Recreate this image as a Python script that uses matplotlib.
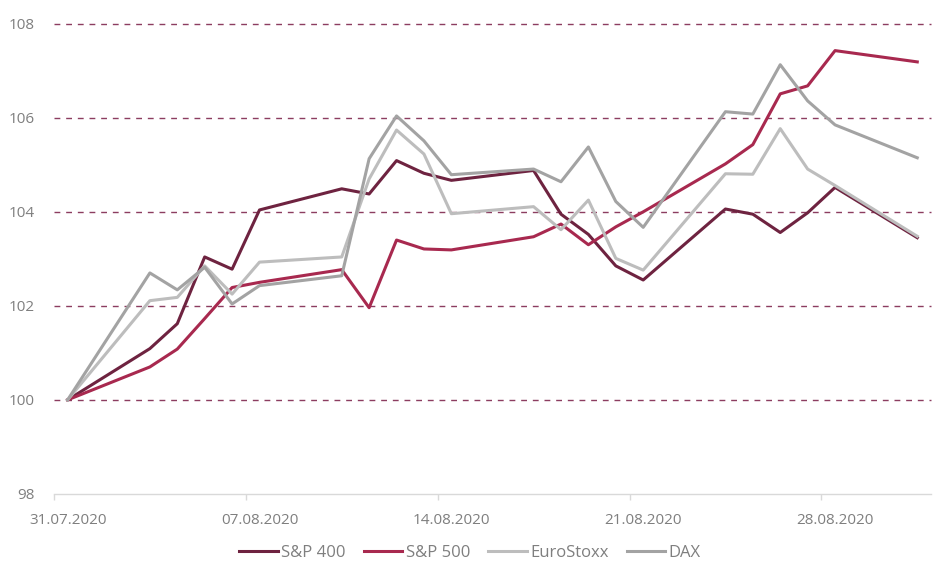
import pandas as pd
import matplotlib.pyplot as plt
import matplotlib.dates as mdates

dates = [
    "2020-07-31", "2020-08-03", "2020-08-04", "2020-08-05", "2020-08-06",
    "2020-08-07", "2020-08-10", "2020-08-11", "2020-08-12", "2020-08-13",
    "2020-08-14", "2020-08-17", "2020-08-18", "2020-08-19", "2020-08-20",
    "2020-08-21", "2020-08-24", "2020-08-25", "2020-08-26", "2020-08-27",
    "2020-08-28", "2020-08-31",
]
tick_dates = ["2020-07-31", "2020-08-07", "2020-08-14", "2020-08-21", "2020-08-28"]

sp400 = [100.00, 101.09, 101.62, 103.04, 102.78, 104.04, 104.49, 104.38,
         105.09, 104.82, 104.67, 104.88, 103.95, 103.52, 102.85, 102.55,
         104.06, 103.95, 103.56, 103.98, 104.52, 103.45]
sp500 = [100.00, 100.70, 101.08, 101.73, 102.39, 102.50, 102.77, 101.96,
         103.40, 103.21, 103.19, 103.47, 103.74, 103.30, 103.68, 104.00,
         105.02, 105.43, 106.51, 106.68, 107.43, 107.19]
eurostoxx = [100.00, 102.11, 102.18, 102.85, 102.25, 102.93, 103.04, 104.70,
             105.74, 105.23, 103.96, 104.11, 103.62, 104.25, 103.01, 102.76,
             104.81, 104.80, 105.77, 104.91, 104.56, 103.48]
dax = [100.00, 102.70, 102.34, 102.82, 102.04, 102.43, 102.64, 105.13,
       106.04, 105.51, 104.79, 104.91, 104.64, 105.38, 104.22, 103.67,
       106.13, 106.08, 107.13, 106.36, 105.85, 105.15]

series = [
    ("S&P 400", sp400, "#6E2340"),
    ("S&P 500", sp500, "#A8294F"),
    ("EuroStoxx", eurostoxx, "#BDBDBD"),
    ("DAX", dax, "#A3A3A3"),
]

x = pd.to_datetime(dates)
ticks = pd.to_datetime(tick_dates)

plt.rcParams["font.family"] = ["Open Sans", "DejaVu Sans"]

fig = plt.figure(figsize=(9.4, 5.81), dpi=100)
ax = fig.add_axes([0.0574, 0.150, 0.933, 0.809])

for y in [100, 102, 104, 106, 108]:
    ax.axhline(y, color="#8C3D60", linewidth=1.0, dashes=(4.2, 4.2),
               zorder=1, clip_on=False)

for name, vals, color in series:
    ax.plot(x, vals, color=color, linewidth=2.2, label=name, zorder=3)

half = pd.Timedelta(hours=12)
ax.set_xlim(x[0] - half, x[-1] + half)
ax.set_ylim(98, 108)
ax.set_yticks([98, 100, 102, 104, 106, 108])

ax.set_xticks(ticks)
ax.xaxis.set_major_formatter(mdates.DateFormatter("%d.%m.%Y"))
ax.set_xticks(ticks - half, minor=True)

ax.tick_params(axis="x", which="major", length=0, pad=14, labelsize=11,
               labelcolor="#7F7F7F")
ax.tick_params(axis="x", which="minor", length=4, width=1, color="#D9D9D9")
ax.tick_params(axis="y", length=0, pad=14, labelsize=11,
               labelcolor="#7F7F7F")

for side in ["top", "right", "left"]:
    ax.spines[side].set_visible(False)
ax.spines["bottom"].set_color("#D9D9D9")
ax.spines["bottom"].set_linewidth(1.0)

fig.legend(
    loc="center",
    bbox_to_anchor=(0.5, 0.048),
    ncol=4,
    frameon=False,
    fontsize=12,
    labelcolor="#7F7F7F",
    handlelength=2.3,
    handletextpad=0.2,
    columnspacing=1.1,
)

plt.savefig("out.png", dpi=100)
